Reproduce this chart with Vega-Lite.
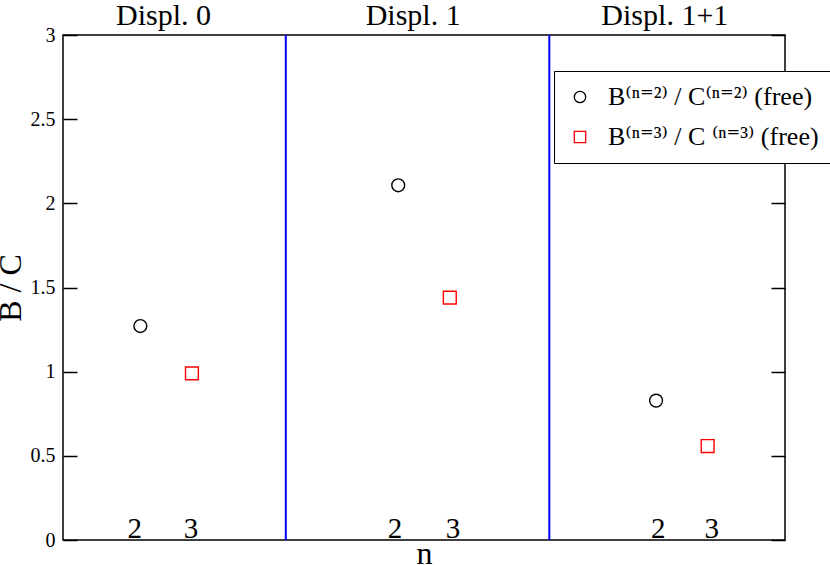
{
  "$schema": "https://vega.github.io/schema/vega-lite/v6.json",
  "width": 722,
  "height": 505,
  "autosize": {"type": "none"},
  "padding": {"left": 63, "top": 35, "right": 45, "bottom": 25},
  "config": {
    "view": {"stroke": "black", "strokeWidth": 1.5},
    "font": "Liberation Serif",
    "axis": {
      "grid": false,
      "domain": false,
      "labelFont": "Liberation Serif",
      "titleFont": "Liberation Serif",
      "labelColor": "black",
      "titleColor": "black",
      "tickColor": "black"
    }
  },
  "layer": [
    {
      "data": {"values": [{"x": 4.32}, {"x": 9.43}]},
      "mark": {"type": "rule", "color": "#0000ff", "strokeWidth": 2},
      "encoding": {
        "x": {
          "field": "x", "type": "quantitative", "scale": {"domain": [0, 14], "nice": false},
          "axis": {"orient": "bottom", "ticks": false, "labels": false, "title": "n", "titleFontSize": 32, "titleFontWeight": "normal", "titlePadding": -2}
        }
      }
    },
    {
      "data": {
        "values": [
          {"x": 1.5, "y": 1.271, "series": "B⁽ⁿ⁼²⁾ / C⁽ⁿ⁼²⁾ (free)"},
          {"x": 6.5, "y": 2.107, "series": "B⁽ⁿ⁼²⁾ / C⁽ⁿ⁼²⁾ (free)"},
          {"x": 11.5, "y": 0.828, "series": "B⁽ⁿ⁼²⁾ / C⁽ⁿ⁼²⁾ (free)"},
          {"x": 2.5, "y": 0.99, "series": "B⁽ⁿ⁼³⁾ / C ⁽ⁿ⁼³⁾ (free)"},
          {"x": 7.5, "y": 1.44, "series": "B⁽ⁿ⁼³⁾ / C ⁽ⁿ⁼³⁾ (free)"},
          {"x": 12.5, "y": 0.558, "series": "B⁽ⁿ⁼³⁾ / C ⁽ⁿ⁼³⁾ (free)"}
        ]
      },
      "mark": {"type": "point", "filled": false, "size": 165, "strokeWidth": 1.4, "opacity": 1},
      "encoding": {
        "x": {
          "field": "x", "type": "quantitative",
          "scale": {"domain": [0, 14], "nice": false},
          "axis": {"orient": "bottom", "ticks": false, "labels": false, "title": "n", "titleFontSize": 32, "titleFontWeight": "normal", "titlePadding": -2}
        },
        "y": {
          "field": "y", "type": "quantitative",
          "scale": {"domain": [0, 3], "nice": false},
          "axis": {
            "orient": "left",
            "values": [0, 0.5, 1, 1.5, 2, 2.5, 3],
            "format": "~g",
            "tickSize": -14,
            "tickWidth": 1.5,
            "labelPadding": 22,
            "labelFontSize": 20,
            "title": "B / C",
            "titleFontSize": 32,
            "titleFontWeight": "normal",
            "titlePadding": 3
          }
        },
        "color": {
          "field": "series", "type": "nominal",
          "scale": {"domain": ["B⁽ⁿ⁼²⁾ / C⁽ⁿ⁼²⁾ (free)", "B⁽ⁿ⁼³⁾ / C ⁽ⁿ⁼³⁾ (free)"], "range": ["black", "#ff0000"]},
          "legend": {
            "orient": "none", "legendX": 491, "legendY": 36, "title": null,
            "strokeColor": "black", "fillColor": "white", "padding": 13, "rowPadding": 14,
            "labelFont": "Liberation Serif, DejaVu Serif", "labelFontSize": 26, "labelColor": "black",
            "labelOffset": 15, "labelLimit": 0, "symbolSize": 130, "symbolStrokeWidth": 1.3
          }
        },
        "shape": {
          "field": "series", "type": "nominal",
          "scale": {"domain": ["B⁽ⁿ⁼²⁾ / C⁽ⁿ⁼²⁾ (free)", "B⁽ⁿ⁼³⁾ / C ⁽ⁿ⁼³⁾ (free)"], "range": ["circle", "square"]},
          "legend": {
            "orient": "none", "legendX": 491, "legendY": 36, "title": null,
            "strokeColor": "black", "fillColor": "white", "padding": 13, "rowPadding": 14,
            "labelFont": "Liberation Serif, DejaVu Serif", "labelFontSize": 26, "labelColor": "black",
            "labelOffset": 15, "labelLimit": 0, "symbolSize": 130, "symbolStrokeWidth": 1.3
          }
        }
      }
    },
    {
      "data": {
        "values": [
          {"x": 1.95, "y": 3, "label": "Displ. 0"},
          {"x": 6.79, "y": 3, "label": "Displ. 1"},
          {"x": 11.67, "y": 3, "label": "Displ. 1+1"}
        ]
      },
      "mark": {"type": "text", "font": "Liberation Serif", "fontSize": 30, "baseline": "alphabetic", "dy": -10, "color": "black"},
      "encoding": {
        "x": {
          "field": "x", "type": "quantitative", "scale": {"domain": [0, 14], "nice": false},
          "axis": {"orient": "bottom", "ticks": false, "labels": false, "title": "n", "titleFontSize": 32, "titleFontWeight": "normal", "titlePadding": -2}
        },
        "y": {"field": "y", "type": "quantitative", "scale": {"domain": [0, 3], "nice": false}, "axis": null},
        "text": {"field": "label"}
      }
    },
    {
      "data": {
        "values": [
          {"x": 1.39, "y": 0, "label": "2"},
          {"x": 2.48, "y": 0, "label": "3"},
          {"x": 6.44, "y": 0, "label": "2"},
          {"x": 7.56, "y": 0, "label": "3"},
          {"x": 11.54, "y": 0, "label": "2"},
          {"x": 12.58, "y": 0, "label": "3"}
        ]
      },
      "mark": {"type": "text", "font": "Liberation Serif", "fontSize": 29, "baseline": "alphabetic", "dy": -2, "color": "black"},
      "encoding": {
        "x": {
          "field": "x", "type": "quantitative", "scale": {"domain": [0, 14], "nice": false},
          "axis": {"orient": "bottom", "ticks": false, "labels": false, "title": "n", "titleFontSize": 32, "titleFontWeight": "normal", "titlePadding": -2}
        },
        "y": {
          "field": "y", "type": "quantitative",
          "scale": {"domain": [0, 3], "nice": false},
          "axis": {"orient": "right", "values": [0, 0.5, 1, 1.5, 2, 2.5, 3], "labels": false, "tickSize": -14, "tickWidth": 1.5, "title": null}
        },
        "text": {"field": "label"}
      }
    }
  ],
  "resolve": {"axis": {"y": "independent"}}
}
